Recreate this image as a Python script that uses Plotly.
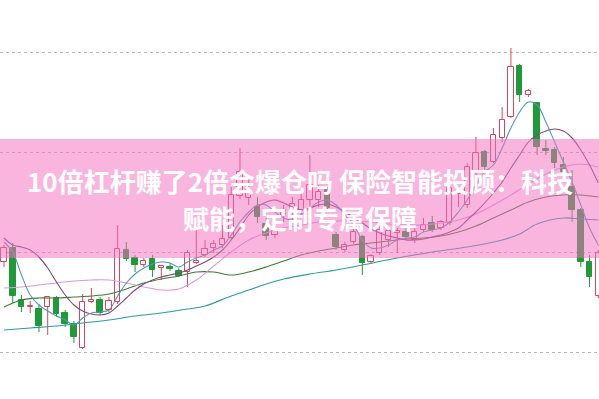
import plotly.graph_objects as go

# ---- data (price units) ----
opens = [8.90, 9.04, 8.52, 8.45, 8.43, 8.45, 8.54, 8.39, 8.28, 8.04,
         8.50, 8.52, 8.42, 8.50, 9.02, 8.94, 8.87, 8.93, 8.84, 8.85,
         8.81, 8.80, 8.89, 8.97, 9.04, 9.07, 9.14, 9.56, 9.54, 9.45,
         9.28, 9.17, 9.36, 9.40, 9.42, 9.52, 9.52, 9.62, 9.17, 9.02,
         9.10, 9.15, 8.90, 8.99, 9.12, 9.19, 9.20, 9.12, 9.22, 9.29,
         9.24, 9.29, 9.58, 9.47, 9.79, 10.00, 9.90, 10.14, 10.35, 10.86,
         10.57, 10.49, 10.03, 10.02, 9.87, 9.65, 9.42, 8.90, 8.56]
highs = [9.07, 9.09, 8.57, 8.51, 8.48, 8.56, 8.56, 8.42, 8.31, 8.58,
         8.64, 8.55, 8.55, 9.27, 9.10, 8.97, 8.94, 8.97, 8.87, 8.89,
         8.84, 9.02, 9.24, 9.12, 9.12, 9.27, 9.65, 10.04, 9.72, 9.55,
         9.34, 9.26, 9.47, 9.55, 9.60, 9.97, 9.67, 9.65, 9.20, 9.10,
         9.24, 9.17, 8.98, 9.27, 9.24, 9.24, 9.24, 9.24, 9.34, 9.36,
         9.32, 9.66, 9.64, 9.89, 10.15, 10.02, 10.24, 10.45, 11.04, 10.88,
         10.63, 10.50, 10.12, 10.05, 9.95, 9.82, 9.44, 8.97, 9.02]
lows = [8.85, 8.49, 8.40, 8.39, 8.20, 8.17, 8.35, 8.25, 8.09, 8.03,
        8.49, 8.37, 8.40, 8.48, 8.91, 8.80, 8.85, 8.75, 8.72, 8.81,
        8.75, 8.65, 8.88, 8.95, 8.99, 9.04, 9.12, 9.53, 9.47, 9.29,
        9.12, 9.14, 9.30, 9.32, 9.37, 9.42, 9.45, 9.40, 9.02, 9.00,
        9.08, 8.77, 8.88, 8.97, 9.05, 8.99, 9.12, 9.09, 9.20, 9.20,
        9.22, 9.27, 9.45, 9.44, 9.75, 9.82, 9.89, 10.10, 10.34, 10.50,
        10.55, 9.97, 9.97, 9.84, 9.75, 9.30, 8.85, 8.65, 8.54]
closes = [9.04, 8.56, 8.45, 8.46, 8.26, 8.55, 8.38, 8.28, 8.15, 8.50,
          8.52, 8.39, 8.51, 9.03, 8.93, 8.87, 8.91, 8.82, 8.86, 8.83,
          8.76, 8.99, 8.91, 9.03, 9.08, 9.13, 9.57, 9.80, 9.62, 9.35,
          9.16, 9.21, 9.42, 9.48, 9.52, 9.67, 9.60, 9.44, 9.05, 9.07,
          9.20, 8.89, 8.96, 9.22, 9.21, 9.21, 9.15, 9.20, 9.27, 9.22,
          9.30, 9.64, 9.60, 9.85, 9.99, 9.85, 10.17, 10.32, 10.85, 10.57,
          10.61, 10.05, 10.01, 9.89, 9.80, 9.42, 8.90, 8.75, 8.99]

ma5 = [9.10, 9.00, 8.77, 8.57, 8.47, 8.41, 8.36, 8.32, 8.27, 8.34,
       8.39, 8.40, 8.42, 8.56, 8.69, 8.78, 8.84, 8.88, 8.90, 8.89,
       8.85, 8.90, 8.94, 8.97, 9.02, 9.06, 9.17, 9.30, 9.40, 9.47,
       9.47, 9.40, 9.34, 9.32, 9.37, 9.44, 9.50, 9.52, 9.47, 9.37,
       9.27, 9.12, 9.04, 9.04, 9.07, 9.12, 9.14, 9.15, 9.20, 9.22,
       9.24, 9.30, 9.40, 9.52, 9.67, 9.80, 9.87, 10.04, 10.24, 10.40,
       10.50, 10.47, 10.30, 10.10, 9.90, 9.70, 9.47, 9.24, 9.07]
ma10 = [9.14, 9.07, 9.05, 9.02, 8.95, 8.84, 8.70, 8.57, 8.47, 8.41,
        8.38, 8.37, 8.39, 8.46, 8.54, 8.62, 8.68, 8.72, 8.75, 8.77,
        8.79, 8.82, 8.86, 8.90, 8.95, 9.02, 9.12, 9.24, 9.37, 9.45,
        9.50, 9.52, 9.49, 9.45, 9.42, 9.44, 9.47, 9.48, 9.45, 9.40,
        9.35, 9.29, 9.23, 9.19, 9.16, 9.14, 9.12, 9.12, 9.13, 9.15,
        9.17, 9.20, 9.24, 9.32, 9.40, 9.49, 9.59, 9.70, 9.84, 9.97,
        10.10, 10.17, 10.21, 10.23, 10.21, 10.14, 10.02, 9.87, 9.69]
ma20_idx = list(range(0, 69, 2))
ma20 = [8.64, 8.65, 8.67, 8.69, 8.71, 8.72, 8.72, 8.69, 8.65, 8.62,
        8.63, 8.72, 8.86, 9.00, 9.12, 9.19, 9.24, 9.27, 9.30, 9.31,
        9.31, 9.30, 9.28, 9.27, 9.27, 9.29, 9.32, 9.38, 9.47, 9.57,
        9.68, 9.78, 9.85, 9.88, 9.85]
ma30_idx = list(range(0, 69, 2))
ma30 = [8.45, 8.52, 8.54, 8.54, 8.55, 8.56, 8.58, 8.63, 8.69, 8.73,
        8.76, 8.80, 8.80, 8.77, 8.80, 8.85, 8.91, 8.97, 9.01, 9.04,
        9.07, 9.09, 9.11, 9.13, 9.14, 9.16, 9.20, 9.26, 9.34, 9.42,
        9.50, 9.55, 9.57, 9.57, 9.55]
ma60_idx = [0, 3, 6, 9, 12, 15, 18, 21, 23, 26, 28, 30, 32, 35, 38, 41,
            45, 49, 53, 57, 59, 61, 64, 66, 68]
ma60 = [8.22, 8.24, 8.26, 8.29, 8.32, 8.36, 8.39, 8.43, 8.46, 8.56,
        8.62, 8.68, 8.73, 8.78, 8.82, 8.87, 8.94, 9.00, 9.05, 9.12,
        9.18, 9.28, 9.34, 9.33, 9.32]
grid_levels = [8, 9, 10, 11]

title1 = "10倍杠杆赚了2倍会爆仓吗 保险智能投顾：科技"
title2 = "赋能，定制专属保障"

RED = "#d8445c"
GREEN = "#1f9a38"

n = len(closes)
idx = list(range(n))

fig = go.Figure()

# wicks (split into upper/lower so hollow bodies stay hollow)
for up, col in ((True, RED), (False, GREEN)):
    wx, wy = [], []
    for i in idx:
        o, h, l, c = opens[i], highs[i], lows[i], closes[i]
        if (c >= o) != up:
            continue
        top, bot = max(o, c), min(o, c)
        wx += [i, i, None, i, i, None]
        wy += [h, top, None, bot, l, None]
    fig.add_trace(go.Scatter(x=wx, y=wy, mode="lines",
                             line=dict(color=col, width=1),
                             hoverinfo="skip", showlegend=False))

# bodies
up_i = [i for i in idx if closes[i] >= opens[i]]
dn_i = [i for i in idx if closes[i] < opens[i]]
fig.add_trace(go.Bar(x=up_i, base=[opens[i] for i in up_i],
                     y=[closes[i] - opens[i] for i in up_i], width=0.6,
                     marker=dict(color="white", line=dict(color=RED, width=1)),
                     showlegend=False))
fig.add_trace(go.Bar(x=dn_i, base=[opens[i] for i in dn_i],
                     y=[closes[i] - opens[i] for i in dn_i], width=0.64,
                     marker=dict(color=GREEN, line=dict(color=GREEN, width=1)),
                     showlegend=False))

# moving averages
fig.add_trace(go.Scatter(x=ma60_idx, y=ma60, mode="lines",
                         line=dict(color="#2e9aa0", width=1.1, shape="spline"),
                         showlegend=False))
fig.add_trace(go.Scatter(x=ma30_idx, y=ma30, mode="lines",
                         line=dict(color="#3d7a34", width=1.1, shape="spline"),
                         showlegend=False))
fig.add_trace(go.Scatter(x=ma20_idx, y=ma20, mode="lines",
                         line=dict(color="#d79ae0", width=1.1, shape="spline"),
                         showlegend=False))
fig.add_trace(go.Scatter(x=idx, y=ma10, mode="lines",
                         line=dict(color="#7e4a78", width=1.1, shape="spline"),
                         showlegend=False))
fig.add_trace(go.Scatter(x=idx, y=ma5, mode="lines",
                         line=dict(color="#4f9bb0", width=1.1, shape="spline"),
                         showlegend=False))

fig.update_layout(
    width=599, height=399,
    margin=dict(l=0, r=0, t=0, b=0),
    paper_bgcolor="white", plot_bgcolor="white",
    barmode="overlay", bargap=0,
    hovermode=False,
    xaxis=dict(range=[-0.458, 68.08], visible=False, fixedrange=True),
    yaxis=dict(range=[7.53, 11.52], tickvals=grid_levels, showticklabels=False,
               showgrid=True, gridcolor="#b8b8b8", griddash="dot", gridwidth=1,
               zeroline=False, showline=False, fixedrange=True),
    shapes=[dict(type="rect", xref="paper", yref="paper",
                 x0=0, x1=1, y0=1 - 258 / 399, y1=1 - 139 / 399,
                 fillcolor="rgba(243,113,191,0.52)", line=dict(width=0),
                 layer="above")],
    annotations=[
        dict(text="<b>" + title1 + "</b>", xref="paper", yref="paper",
             x=0.5, y=1 - 180 / 399, xanchor="center", yanchor="middle",
             showarrow=False,
             font=dict(family="Noto Sans CJK SC", size=26, color="white")),
        dict(text="<b>" + title2 + "</b>", xref="paper", yref="paper",
             x=0.5, y=1 - 217 / 399, xanchor="center", yanchor="middle",
             showarrow=False,
             font=dict(family="Noto Sans CJK SC", size=26, color="white")),
    ],
)

fig.write_html("out.html")
